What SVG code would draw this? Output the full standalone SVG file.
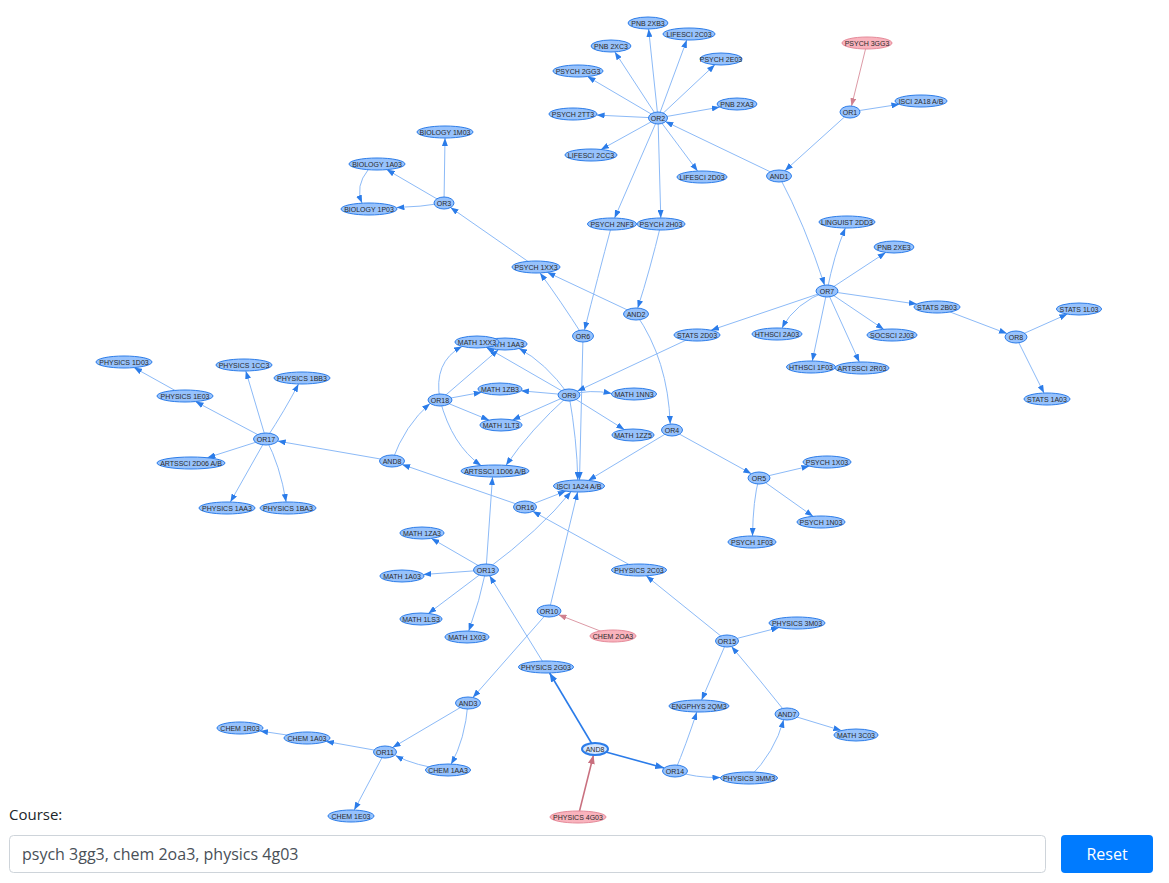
<svg xmlns="http://www.w3.org/2000/svg" width="1169" height="883" viewBox="0 0 1169 883">
<style>
.n ellipse{fill:#97c2fc;stroke:#2b7ce9;stroke-width:1}
.n.p ellipse{fill:#f9b3bd;stroke:#e58a99}
.n.s ellipse{fill:#d2e5ff;stroke:#2b7ce9;stroke-width:2}
.n text{font-family:"Liberation Sans",Arial,sans-serif;font-size:7px;fill:#2a2a2a;text-anchor:middle}
#edges path{fill:none;stroke:#8cbaf7;stroke-width:1;marker-end:url(#a)}
#edges path.b{stroke:#2b7ce9;stroke-width:1.6;marker-end:url(#ab)}
#edges path.pk{stroke:#dd9aa6;marker-end:url(#ap)}
#edges path.pkb{stroke:#c9707f;stroke-width:1.6;marker-end:url(#apb)}
.ui{font-family:"Open Sans","Liberation Sans",Arial,sans-serif}
</style>
<defs>
<marker id="a" markerUnits="userSpaceOnUse" markerWidth="8" markerHeight="6" viewBox="0 0 8 6" refX="8" refY="3" orient="auto"><path d="M0,0L8,3L0,6z" fill="#2b7ce9"/></marker>
<marker id="ab" markerUnits="userSpaceOnUse" markerWidth="9" markerHeight="7" viewBox="0 0 9 7" refX="9" refY="3.5" orient="auto"><path d="M0,0L9,3.5L0,7z" fill="#2b7ce9"/></marker>
<marker id="ap" markerUnits="userSpaceOnUse" markerWidth="8" markerHeight="6" viewBox="0 0 8 6" refX="8" refY="3" orient="auto"><path d="M0,0L8,3L0,6z" fill="#d0808f"/></marker>
<marker id="apb" markerUnits="userSpaceOnUse" markerWidth="9" markerHeight="7" viewBox="0 0 9 7" refX="9" refY="3.5" orient="auto"><path d="M0,0L9,3.5L0,7z" fill="#c9707f"/></marker>
</defs>
<rect width="1169" height="883" fill="#fff"/>
<g id="edges">
<path d="M658,118L648.6,29"/>
<path d="M658,118L686.8,40"/>
<path d="M658,118L614.8,51.9"/>
<path d="M658,118L714.9,64.7"/>
<path d="M658,118L587.5,76.6"/>
<path d="M658,118L719.8,107.1"/>
<path d="M658,118L596.6,115.1"/>
<path d="M658,118L601,149.5"/>
<path d="M658,118L697.6,171.1"/>
<path d="M658,118L614.6,218"/>
<path d="M658,118L660.8,218"/>
<path d="M779,176L665.3,121.5"/>
<path d="M850,112L784.9,170.7"/>
<path d="M850,112L899.4,104.3"/>
<path d="M779,176Q805,225 824.6,285.2"/>
<path d="M827,291Q834,255 845.3,228"/>
<path d="M827,291L885.7,252.5"/>
<path d="M827,291L916.9,304.1"/>
<path d="M827,291L883.7,329.3"/>
<path d="M827,291L859.3,362"/>
<path d="M827,291L812.3,361"/>
<path d="M827,291Q795,303 782,328"/>
<path d="M827,291L711,330.2"/>
<path d="M937,307L1007,333.6"/>
<path d="M1016,337L1067.4,314.1"/>
<path d="M1016,337L1044,393.1"/>
<path d="M444,203L445,138"/>
<path d="M444,203L386.7,169.6"/>
<path d="M444,203Q420,207 396.5,207.5"/>
<path d="M368,170Q355,186 362,203"/>
<path d="M536,267L450.5,207.5"/>
<path d="M636,314L547.3,272.3"/>
<path d="M583,336Q560,300 540,272.9"/>
<path d="M612,224Q597,280 584.5,330"/>
<path d="M661,224Q650,270 637.7,308.1"/>
<path d="M636,314Q668,360 670.2,424"/>
<path d="M583,336L579.5,480"/>
<path d="M697,335L577.3,391.1"/>
<path d="M569,395Q545,362 519,348.6"/>
<path d="M569,395L486.4,347.4"/>
<path d="M569,395L520.9,390.8"/>
<path d="M569,395Q590,389 611.6,393.4"/>
<path d="M569,395L512.4,420"/>
<path d="M569,395L624.3,429.5"/>
<path d="M569,395Q530,430 506,465.3"/>
<path d="M569,395Q577,440 577.8,480"/>
<path d="M440,400Q433,362 462,346.4"/>
<path d="M440,400L498.4,349.7"/>
<path d="M440,400L481.7,392.3"/>
<path d="M440,400L489,420.1"/>
<path d="M440,400Q452,445 481,465.5"/>
<path d="M392,461Q405,425 430,403.5"/>
<path d="M392,461L277.7,441.1"/>
<path d="M525,507L402.1,464.5"/>
<path d="M525,507L565.8,491.1"/>
<path d="M672,430L588.3,480.4"/>
<path d="M672,430L751.3,473.7"/>
<path d="M759,478L809.5,466.1"/>
<path d="M759,478L813,516.3"/>
<path d="M759,478Q753,500 752.5,536"/>
<path d="M266,439L195.5,401.6"/>
<path d="M266,439L245.8,371"/>
<path d="M266,439Q285,410 298.5,384"/>
<path d="M266,439L207.4,457.7"/>
<path d="M266,439L230.4,502"/>
<path d="M266,439Q280,465 286.1,502"/>
<path d="M185,396L134,367.6"/>
<path d="M486,570L431.4,538.4"/>
<path d="M486,570L423.3,574.5"/>
<path d="M486,570L428.4,613.4"/>
<path d="M486,570Q480,600 468.7,631.1"/>
<path d="M486,570L492.5,477"/>
<path d="M486,570Q540,530 571,491.7"/>
<path d="M546,667L489.6,575.8"/>
<path d="M639,570L532.7,511.3"/>
<path d="M727,641L646.2,575.8"/>
<path d="M549,611L577.6,492"/>
<path d="M549,611L472.9,697.5"/>
<path d="M468,703L392.6,747.5"/>
<path d="M468,703Q465,740 451,764.2"/>
<path d="M448,770Q415,766 395.5,755.5"/>
<path d="M385,752L325.9,741.4"/>
<path d="M385,752L354.2,810.1"/>
<path d="M307,738L260,731"/>
<path d="M675,771Q686,745 696.8,712"/>
<path d="M675,771Q695,778 720.5,777.5"/>
<path d="M727,641L701.6,700"/>
<path d="M727,641L779.1,627.6"/>
<path d="M787,714Q760,680 731.5,646.5"/>
<path d="M749,778Q775,752 783.6,719.8"/>
<path d="M787,714L841.3,730.5"/>
<path class="b" d="M595,749L549.6,673"/>
<path class="b" d="M595,749L664.2,768"/>
<path class="pk" d="M867,43L851.5,106.1"/>
<path class="pk" d="M613,636L558.5,614.7"/>
<path class="pkb" d="M578,817L593.5,755"/>
</g>
<g id="n-pnb2xb3" class="n"><ellipse cx="648" cy="23" rx="20" ry="6"/><text x="648" y="25.5">PNB 2XB3</text></g>
<g id="n-lifesci2c03" class="n"><ellipse cx="689" cy="34" rx="26" ry="6"/><text x="689" y="36.5">LIFESCI 2C03</text></g>
<g id="n-pnb2xc3" class="n"><ellipse cx="611" cy="46" rx="20" ry="6"/><text x="611" y="48.5">PNB 2XC3</text></g>
<g id="n-psych2e03" class="n"><ellipse cx="721" cy="59" rx="21" ry="6"/><text x="721" y="61.5">PSYCH 2E03</text></g>
<g id="n-psych2gg3" class="n"><ellipse cx="578" cy="71" rx="25" ry="6"/><text x="578" y="73.5">PSYCH 2GG3</text></g>
<g id="n-pnb2xa3" class="n"><ellipse cx="737" cy="104" rx="20" ry="6"/><text x="737" y="106.5">PNB 2XA3</text></g>
<g id="n-psych2tt3" class="n"><ellipse cx="573" cy="114" rx="24" ry="6"/><text x="573" y="116.5">PSYCH 2TT3</text></g>
<g id="n-or2" class="n"><ellipse cx="658" cy="118" rx="9.5" ry="6"/><text x="658" y="120.5">OR2</text></g>
<g id="n-lifesci2cc3" class="n"><ellipse cx="591" cy="155" rx="26" ry="6"/><text x="591" y="157.5">LIFESCI 2CC3</text></g>
<g id="n-lifesci2d03" class="n"><ellipse cx="702" cy="177" rx="25" ry="6"/><text x="702" y="179.5">LIFESCI 2D03</text></g>
<g id="n-and1" class="n"><ellipse cx="779" cy="176" rx="12.5" ry="6"/><text x="779" y="178.5">AND1</text></g>
<g id="n-psych2nf3" class="n"><ellipse cx="612" cy="224" rx="24.5" ry="6"/><text x="612" y="226.5">PSYCH 2NF3</text></g>
<g id="n-psych2h03" class="n"><ellipse cx="661" cy="224" rx="24" ry="6"/><text x="661" y="226.5">PSYCH 2H03</text></g>
<g id="n-psych3gg3" class="n p"><ellipse cx="867" cy="43" rx="25" ry="6"/><text x="867" y="45.5">PSYCH 3GG3</text></g>
<g id="n-or1" class="n"><ellipse cx="850" cy="112" rx="10" ry="6"/><text x="850" y="114.5">OR1</text></g>
<g id="n-isci2a18" class="n"><ellipse cx="921" cy="101" rx="26" ry="6"/><text x="921" y="103.5">ISCI 2A18 A/B</text></g>
<g id="n-bio1m03" class="n"><ellipse cx="445" cy="132" rx="28" ry="6"/><text x="445" y="134.5">BIOLOGY 1M03</text></g>
<g id="n-bio1a03" class="n"><ellipse cx="377" cy="164" rx="28" ry="6"/><text x="377" y="166.5">BIOLOGY 1A03</text></g>
<g id="n-bio1p03" class="n"><ellipse cx="369" cy="209" rx="28" ry="6"/><text x="369" y="211.5">BIOLOGY 1P03</text></g>
<g id="n-or3" class="n"><ellipse cx="444" cy="203" rx="10" ry="6"/><text x="444" y="205.5">OR3</text></g>
<g id="n-psych1xx3" class="n"><ellipse cx="536" cy="267" rx="24" ry="6"/><text x="536" y="269.5">PSYCH 1XX3</text></g>
<g id="n-and2" class="n"><ellipse cx="636" cy="314" rx="12.5" ry="6"/><text x="636" y="316.5">AND2</text></g>
<g id="n-or6" class="n"><ellipse cx="583" cy="336" rx="10.5" ry="6"/><text x="583" y="338.5">OR6</text></g>
<g id="n-linguist2dd3" class="n"><ellipse cx="847" cy="222" rx="28" ry="6"/><text x="847" y="224.5">LINGUIST 2DD3</text></g>
<g id="n-pnb2xe3" class="n"><ellipse cx="894" cy="247" rx="20" ry="6"/><text x="894" y="249.5">PNB 2XE3</text></g>
<g id="n-or7" class="n"><ellipse cx="827" cy="291" rx="11" ry="6"/><text x="827" y="293.5">OR7</text></g>
<g id="n-stats2b03" class="n"><ellipse cx="937" cy="307" rx="23" ry="6"/><text x="937" y="309.5">STATS 2B03</text></g>
<g id="n-stats2d03" class="n"><ellipse cx="697" cy="335" rx="23" ry="6"/><text x="697" y="337.5">STATS 2D03</text></g>
<g id="n-hthsci2a03" class="n"><ellipse cx="777" cy="334" rx="25" ry="6"/><text x="777" y="336.5">HTHSCI 2A03</text></g>
<g id="n-socsci2j03" class="n"><ellipse cx="892" cy="335" rx="25" ry="6"/><text x="892" y="337.5">SOCSCI 2J03</text></g>
<g id="n-hthsci1f03" class="n"><ellipse cx="811" cy="367" rx="24.5" ry="6"/><text x="811" y="369.5">HTHSCI 1F03</text></g>
<g id="n-artssci2r03" class="n"><ellipse cx="862" cy="368" rx="27" ry="6"/><text x="862" y="370.5">ARTSSCI 2R03</text></g>
<g id="n-or8" class="n"><ellipse cx="1016" cy="337" rx="11" ry="6"/><text x="1016" y="339.5">OR8</text></g>
<g id="n-stats1l03" class="n"><ellipse cx="1079" cy="309" rx="22.5" ry="6"/><text x="1079" y="311.5">STATS 1L03</text></g>
<g id="n-stats1a03" class="n"><ellipse cx="1047" cy="399" rx="23" ry="6"/><text x="1047" y="401.5">STATS 1A03</text></g>
<g id="n-math1aa3" class="n"><ellipse cx="505" cy="344" rx="22" ry="6"/><text x="505" y="346.5">MATH 1AA3</text></g>
<g id="n-math1xx3" class="n"><ellipse cx="477" cy="342" rx="22" ry="6"/><text x="477" y="344.5">MATH 1XX3</text></g>
<g id="n-or18" class="n"><ellipse cx="440" cy="400" rx="12" ry="6"/><text x="440" y="402.5">OR18</text></g>
<g id="n-math1zb3" class="n"><ellipse cx="500" cy="389" rx="22" ry="6"/><text x="500" y="391.5">MATH 1ZB3</text></g>
<g id="n-or9" class="n"><ellipse cx="569" cy="395" rx="11" ry="6"/><text x="569" y="397.5">OR9</text></g>
<g id="n-math1nn3" class="n"><ellipse cx="634" cy="394" rx="22.5" ry="6"/><text x="634" y="396.5">MATH 1NN3</text></g>
<g id="n-math1lt3" class="n"><ellipse cx="501" cy="425" rx="21" ry="6"/><text x="501" y="427.5">MATH 1LT3</text></g>
<g id="n-math1zz5" class="n"><ellipse cx="633" cy="435" rx="21" ry="6"/><text x="633" y="437.5">MATH 1ZZ5</text></g>
<g id="n-or4" class="n"><ellipse cx="672" cy="430" rx="10.5" ry="6"/><text x="672" y="432.5">OR4</text></g>
<g id="n-artssci1d06" class="n"><ellipse cx="495" cy="471" rx="34" ry="6"/><text x="495" y="473.5">ARTSSCI 1D06 A/B</text></g>
<g id="n-isci1a24" class="n"><ellipse cx="579" cy="486" rx="25.5" ry="6"/><text x="579" y="488.5">ISCI 1A24 A/B</text></g>
<g id="n-and8" class="n"><ellipse cx="392" cy="461" rx="12.5" ry="6"/><text x="392" y="463.5">AND8</text></g>
<g id="n-or16" class="n"><ellipse cx="525" cy="507" rx="11.5" ry="6"/><text x="525" y="509.5">OR16</text></g>
<g id="n-or17" class="n"><ellipse cx="266" cy="439" rx="12.5" ry="6"/><text x="266" y="441.5">OR17</text></g>
<g id="n-physics1d03" class="n"><ellipse cx="124" cy="362" rx="28" ry="6"/><text x="124" y="364.5">PHYSICS 1D03</text></g>
<g id="n-physics1e03" class="n"><ellipse cx="185" cy="396" rx="28" ry="6"/><text x="185" y="398.5">PHYSICS 1E03</text></g>
<g id="n-physics1cc3" class="n"><ellipse cx="244" cy="365" rx="28" ry="6"/><text x="244" y="367.5">PHYSICS 1CC3</text></g>
<g id="n-physics1bb3" class="n"><ellipse cx="302" cy="378" rx="28" ry="6"/><text x="302" y="380.5">PHYSICS 1BB3</text></g>
<g id="n-artssci2d06" class="n"><ellipse cx="191" cy="463" rx="34" ry="6"/><text x="191" y="465.5">ARTSSCI 2D06 A/B</text></g>
<g id="n-physics1aa3" class="n"><ellipse cx="227" cy="508" rx="28" ry="6"/><text x="227" y="510.5">PHYSICS 1AA3</text></g>
<g id="n-physics1ba3" class="n"><ellipse cx="288" cy="508" rx="28" ry="6"/><text x="288" y="510.5">PHYSICS 1BA3</text></g>
<g id="n-or5" class="n"><ellipse cx="759" cy="478" rx="11" ry="6"/><text x="759" y="480.5">OR5</text></g>
<g id="n-psych1x03" class="n"><ellipse cx="827" cy="462" rx="24" ry="6"/><text x="827" y="464.5">PSYCH 1X03</text></g>
<g id="n-psych1n03" class="n"><ellipse cx="821" cy="522" rx="24" ry="6"/><text x="821" y="524.5">PSYCH 1N03</text></g>
<g id="n-psych1f03" class="n"><ellipse cx="752" cy="542" rx="24" ry="6"/><text x="752" y="544.5">PSYCH 1F03</text></g>
<g id="n-math1za3" class="n"><ellipse cx="422" cy="533" rx="22" ry="6"/><text x="422" y="535.5">MATH 1ZA3</text></g>
<g id="n-or13" class="n"><ellipse cx="486" cy="570" rx="12.5" ry="6"/><text x="486" y="572.5">OR13</text></g>
<g id="n-math1a03" class="n"><ellipse cx="402" cy="576" rx="22" ry="6"/><text x="402" y="578.5">MATH 1A03</text></g>
<g id="n-math1ls3" class="n"><ellipse cx="421" cy="619" rx="21" ry="6"/><text x="421" y="621.5">MATH 1LS3</text></g>
<g id="n-math1x03" class="n"><ellipse cx="467" cy="637" rx="22" ry="6"/><text x="467" y="639.5">MATH 1X03</text></g>
<g id="n-physics2c03" class="n"><ellipse cx="639" cy="570" rx="27.5" ry="6"/><text x="639" y="572.5">PHYSICS 2C03</text></g>
<g id="n-or10" class="n"><ellipse cx="549" cy="611" rx="12" ry="6"/><text x="549" y="613.5">OR10</text></g>
<g id="n-chem2oa3" class="n p"><ellipse cx="613" cy="636" rx="23" ry="6"/><text x="613" y="638.5">CHEM 2OA3</text></g>
<g id="n-or15" class="n"><ellipse cx="727" cy="641" rx="11.5" ry="6"/><text x="727" y="643.5">OR15</text></g>
<g id="n-physics3m03" class="n"><ellipse cx="797" cy="623" rx="28" ry="6"/><text x="797" y="625.5">PHYSICS 3M03</text></g>
<g id="n-physics2g03" class="n"><ellipse cx="546" cy="667" rx="27.5" ry="6"/><text x="546" y="669.5">PHYSICS 2G03</text></g>
<g id="n-and3" class="n"><ellipse cx="468" cy="703" rx="12.5" ry="6"/><text x="468" y="705.5">AND3</text></g>
<g id="n-engphys2qm3" class="n"><ellipse cx="699" cy="706" rx="30" ry="6"/><text x="699" y="708.5">ENGPHYS 2QM3</text></g>
<g id="n-and7" class="n"><ellipse cx="787" cy="714" rx="12" ry="6"/><text x="787" y="716.5">AND7</text></g>
<g id="n-math3c03" class="n"><ellipse cx="856" cy="735" rx="22" ry="6"/><text x="856" y="737.5">MATH 3C03</text></g>
<g id="n-chem1r03" class="n"><ellipse cx="240" cy="728" rx="23" ry="6"/><text x="240" y="730.5">CHEM 1R03</text></g>
<g id="n-chem1a03" class="n"><ellipse cx="307" cy="738" rx="23" ry="6"/><text x="307" y="740.5">CHEM 1A03</text></g>
<g id="n-or11" class="n"><ellipse cx="385" cy="752" rx="11.5" ry="6"/><text x="385" y="754.5">OR11</text></g>
<g id="n-chem1aa3" class="n"><ellipse cx="448" cy="770" rx="22.5" ry="6"/><text x="448" y="772.5">CHEM 1AA3</text></g>
<g id="n-chem1e03" class="n"><ellipse cx="351" cy="816" rx="23" ry="6"/><text x="351" y="818.5">CHEM 1E03</text></g>
<g id="n-and8b" class="n s"><ellipse cx="595" cy="749" rx="13" ry="6"/><text x="595" y="751.5">AND8</text></g>
<g id="n-or14" class="n"><ellipse cx="675" cy="771" rx="12.5" ry="6"/><text x="675" y="773.5">OR14</text></g>
<g id="n-physics3mm3" class="n"><ellipse cx="749" cy="778" rx="28.5" ry="6"/><text x="749" y="780.5">PHYSICS 3MM3</text></g>
<g id="n-physics4g03" class="n p"><ellipse cx="578" cy="817" rx="28" ry="6"/><text x="578" y="819.5">PHYSICS 4G03</text></g>
<g id="ui">
<text class="ui" x="9" y="820" font-size="15" fill="#212529">Course:</text>
<rect x="9.5" y="835.5" width="1036" height="37" rx="4" fill="#fff" stroke="#ced4da"/>
<text class="ui" x="22" y="860" font-size="16" fill="#495057">psych 3gg3, chem 2oa3, physics 4g03</text>
<rect x="1061" y="835" width="92" height="38" rx="4" fill="#007bff"/>
<text class="ui" x="1107" y="860" font-size="16" fill="#fff" text-anchor="middle">Reset</text>
</g>
</svg>
